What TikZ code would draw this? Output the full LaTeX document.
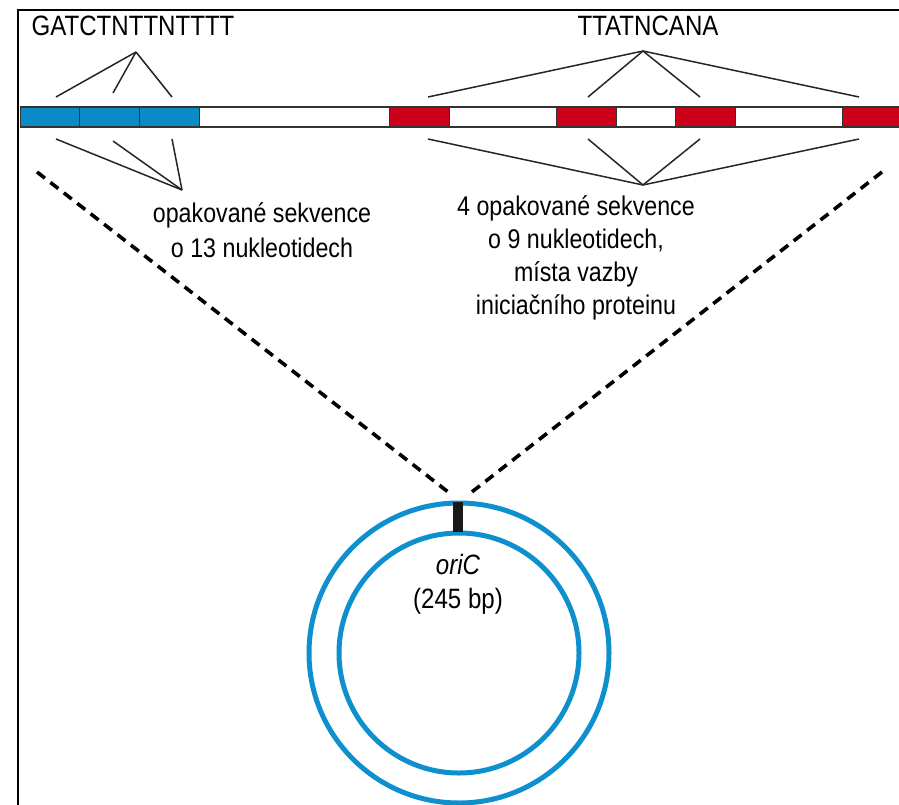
\documentclass[tikz,border=0pt]{standalone}
\usepackage{fontspec}
\setmainfont{Liberation Sans}[FakeStretch=0.86]
\definecolor{seqblue}{HTML}{0A8BC8}
\definecolor{seqred}{HTML}{CC0019}
\definecolor{ringblue}{HTML}{0E90CE}
\begin{document}
\begin{tikzpicture}[x=1pt,y=-1pt,
  seg/.style={draw=black!80,line width=1.3pt,inner sep=0pt,minimum height=20pt,anchor=west},
  bluebox/.style={seg,fill=seqblue},
  redbox/.style={seg,fill=seqred},
  gapbox/.style={seg,fill=white},
  pointer/.style={draw=black!85,line width=1.5pt},
  zoomline/.style={draw=black,line width=3.6pt,dash pattern=on 10pt off 7pt},
  ring/.style={draw=ringblue,line width=5pt},
  title/.style={font=\fontsize{28}{34}\selectfont,inner sep=0pt,anchor=base},
  note/.style={inner sep=0pt,anchor=base,align=center}]
\useasboundingbox (0,0) rectangle (899,805);
\fill[white] (0,0) rectangle (899,805);

% open frame
\draw[line width=2.6pt,line cap=rect] (18,805) -- (18,10) -- (899,10);

% origin region: repeat blocks and spacers
\node[bluebox,minimum width=59pt] (b1) at (20,117) {};
\node[bluebox,minimum width=60pt] (b2) at (79,117) {};
\node[bluebox,minimum width=60pt] (b3) at (139,117) {};
\node[gapbox,minimum width=190pt] (w1) at (199,117) {};
\node[redbox,minimum width=60pt] (r1) at (389,117) {};
\node[gapbox,minimum width=107pt] (w2) at (449,117) {};
\node[redbox,minimum width=60pt] (r2) at (556,117) {};
\node[gapbox,minimum width=59pt] (w3) at (616,117) {};
\node[redbox,minimum width=60pt] (r3) at (675,117) {};
\node[gapbox,minimum width=107pt] (w4) at (735,117) {};
\node[redbox,minimum width=60pt] (r4) at (842,117) {};

% sequence labels
\node[title] (gatc) at (133,36) {GATCTNTTNTTTT};
\node[title] (ttat) at (648,36) {TTATNCANA};

% descriptions (anchored at the baseline of their last line)
\node[note,font=\fontsize{27}{35}\selectfont] (desc13) at (262,257) {opakované sekvence\\o 13 nukleotidech};
\node[note,font=\fontsize{27}{33}\selectfont] (desc9) at (576,314) {4 opakované sekvence\\o 9 nukleotidech,\\místa vazby\\iniciačního proteinu};

% pointer apexes and ends
\coordinate (gt) at (136,52);
\coordinate (gb) at (182,190);
\coordinate (tt) at (643,51);
\coordinate (tb) at (643,185);
\coordinate (b1t) at (56,97);  \coordinate (b1b) at (56,139);
\coordinate (b2t) at (113,93); \coordinate (b2b) at (113,141);
\coordinate (b3t) at (172,97); \coordinate (b3b) at (172,139);
\coordinate (r1t) at (428,97); \coordinate (r1b) at (428,139);
\coordinate (r2t) at (588,97); \coordinate (r2b) at (588,139);
\coordinate (r3t) at (700,97); \coordinate (r3b) at (700,139);
\coordinate (r4t) at (859,97); \coordinate (r4b) at (859,139);

\foreach \p in {b1,b2,b3} {
  \draw[pointer] (gt) -- (\p t);
  \draw[pointer] (\p b) -- (gb);
}
\foreach \p in {r1,r2,r3,r4} {
  \draw[pointer] (tt) -- (\p t);
  \draw[pointer] (\p b) -- (tb);
}

% chromosome with oriC
\coordinate (cc) at (459,653);
\draw[ring] (cc) circle[radius=150];
\draw[ring] (cc) circle[radius=120];
\node[fill=black!90,inner sep=0pt,minimum width=10pt,minimum height=30pt] (ori) at (458,517) {};
\node[note,font=\fontsize{28}{34}\selectfont] (oricl) at (458,608) {\itshape oriC\\(245 bp)};

% zoom lines
\coordinate (zl) at (37,172);
\coordinate (zr) at (882,172);
\coordinate (zlb) at (452,495);
\coordinate (zrb) at (468,495);
\draw[zoomline] (zl) -- (zlb);
\draw[zoomline] (zr) -- (zrb);
\end{tikzpicture}
\end{document}
